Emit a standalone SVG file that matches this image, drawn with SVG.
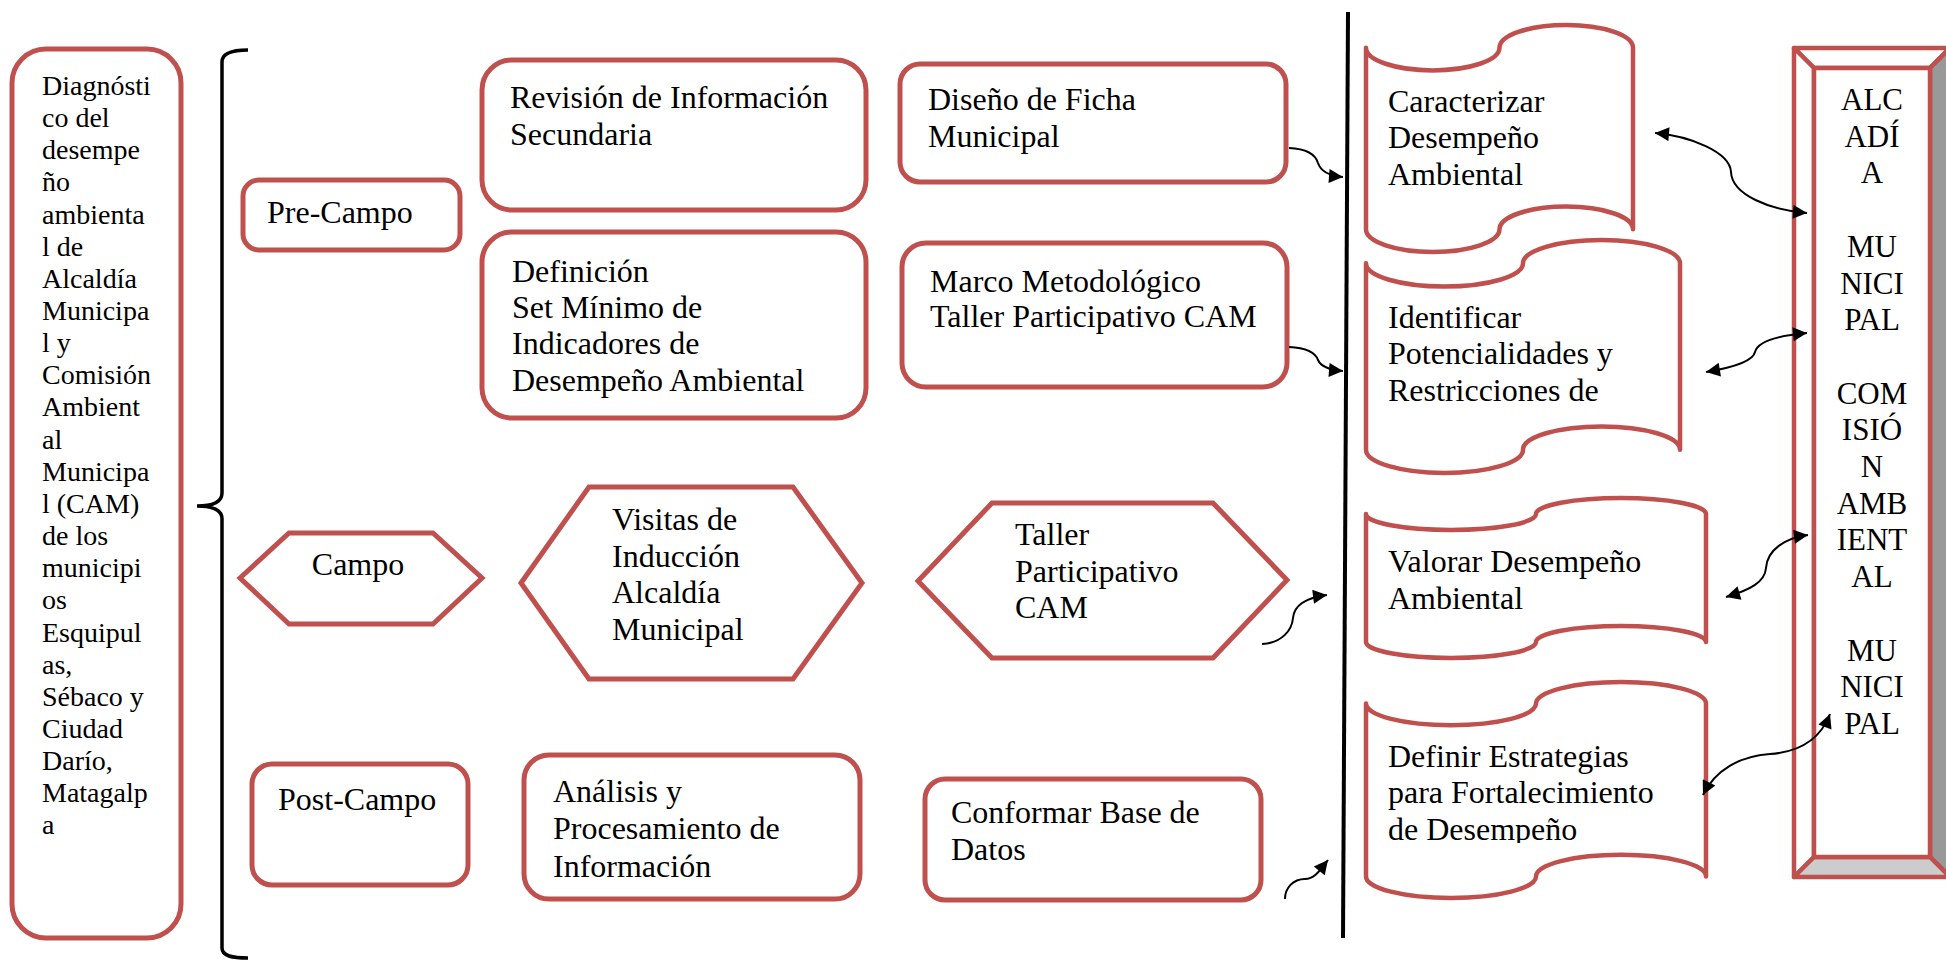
<svg xmlns="http://www.w3.org/2000/svg" width="1946" height="963" viewBox="0 0 1946 963">
<style>
.box{fill:#fff;stroke:#C0504D;stroke-width:5}
.tape{fill:#fff;stroke:#C0504D;stroke-width:4.5;stroke-linejoin:round}
.bev{stroke:#C0504D;stroke-width:4.5;stroke-linejoin:round}
.t{font-family:"Liberation Serif","Times New Roman",serif;font-size:32px;fill:#000}
.ts{font-family:"Liberation Serif","Times New Roman",serif;font-size:28px;fill:#000}
.tb{font-family:"Liberation Serif","Times New Roman",serif;font-size:31px;fill:#000;text-anchor:middle}
.c{fill:none;stroke:#000;stroke-width:2}
.brace{fill:none;stroke:#000;stroke-width:3.5}
</style>
<defs>
<marker id="ah" viewBox="0 0 10 10" refX="10" refY="5" markerWidth="16" markerHeight="14" markerUnits="userSpaceOnUse" orient="auto-start-reverse">
<path d="M0,0 L10,5 L0,10 z" fill="#000"/>
</marker>
<clipPath id="clipDef"><rect x="1366" y="680" width="345" height="163"/></clipPath>
</defs>

<g id="diagnostico">
<rect class="box" x="12" y="49" width="169" height="889" rx="34"/>
<text class="ts" x="42" y="95">
<tspan x="42" dy="0">Diagnósti</tspan><tspan x="42" dy="32.15">co del</tspan><tspan x="42" dy="32.15">desempe</tspan><tspan x="42" dy="32.15">ño</tspan><tspan x="42" dy="32.15">ambienta</tspan><tspan x="42" dy="32.15">l de</tspan><tspan x="42" dy="32.15">Alcaldía</tspan><tspan x="42" dy="32.15">Municipa</tspan><tspan x="42" dy="32.15">l y</tspan><tspan x="42" dy="32.15">Comisión</tspan><tspan x="42" dy="32.15">Ambient</tspan><tspan x="42" dy="32.15">al</tspan><tspan x="42" dy="32.15">Municipa</tspan><tspan x="42" dy="32.15">l (CAM)</tspan><tspan x="42" dy="32.15">de los</tspan><tspan x="42" dy="32.15">municipi</tspan><tspan x="42" dy="32.15">os</tspan><tspan x="42" dy="32.15">Esquipul</tspan><tspan x="42" dy="32.15">as,</tspan><tspan x="42" dy="32.15">Sébaco y</tspan><tspan x="42" dy="32.15">Ciudad</tspan><tspan x="42" dy="32.15">Darío,</tspan><tspan x="42" dy="32.15">Matagalp</tspan><tspan x="42" dy="32.15">a</tspan>
</text>
</g>

<g id="brace">
<path class="brace" d="M248,50 C232,50 222,53 222,62 L222,493 C222,502 212,506 197,506 C212,506 222,510 222,519 L222,948 C222,956 232,958 248,958"/>
</g>

<g id="precampo">
<rect class="box" x="243" y="180" width="217" height="70" rx="16"/>
<text class="t" x="267" y="223">Pre-Campo</text>
</g>

<g id="campo">
<polygon class="box" points="240,578 289,533 433,533 482,578 433,624 289,624"/>
<text class="t" x="358" y="575" text-anchor="middle">Campo</text>
</g>

<g id="postcampo">
<rect class="box" x="252" y="764" width="216" height="121" rx="20"/>
<text class="t" x="278" y="810">Post-Campo</text>
</g>

<g id="revision">
<rect class="box" x="482" y="60" width="384" height="150" rx="30"/>
<text class="t"><tspan x="510" y="108">Revisión de Información</tspan><tspan x="510" y="145">Secundaria</tspan></text>
</g>

<g id="definicion">
<rect class="box" x="482" y="232" width="384" height="186" rx="30"/>
<text class="t"><tspan x="512" y="282">Definición</tspan><tspan x="512" y="318">Set Mínimo de</tspan><tspan x="512" y="354">Indicadores de</tspan><tspan x="512" y="391">Desempeño Ambiental</tspan></text>
</g>

<g id="visitas">
<polygon class="box" points="521,583 589,487 793,487 862,583 793,679 589,679"/>
<text class="t"><tspan x="612" y="530">Visitas de</tspan><tspan x="612" y="567">Inducción</tspan><tspan x="612" y="603">Alcaldía</tspan><tspan x="612" y="640">Municipal</tspan></text>
</g>

<g id="analisis">
<rect class="box" x="524" y="755" width="336" height="144" rx="25"/>
<text class="t"><tspan x="553" y="802">Análisis y</tspan><tspan x="553" y="839">Procesamiento de</tspan><tspan x="553" y="877">Información</tspan></text>
</g>

<g id="ficha">
<rect class="box" x="900" y="64" width="386" height="118" rx="20"/>
<text class="t"><tspan x="928" y="110">Diseño de Ficha</tspan><tspan x="928" y="147">Municipal</tspan></text>
</g>

<g id="marco">
<rect class="box" x="902" y="243" width="385" height="144" rx="24"/>
<text class="t"><tspan x="930" y="292">Marco Metodológico</tspan><tspan x="930" y="327">Taller Participativo CAM</tspan></text>
</g>

<g id="taller">
<polygon class="box" points="918,581 992,503 1213,503 1287,580 1213,658 992,658"/>
<text class="t"><tspan x="1015" y="545">Taller</tspan><tspan x="1015" y="582">Participativo</tspan><tspan x="1015" y="618">CAM</tspan></text>
</g>

<g id="conformar">
<rect class="box" x="925" y="779" width="336" height="121" rx="20"/>
<text class="t"><tspan x="951" y="823">Conformar Base de</tspan><tspan x="951" y="860">Datos</tspan></text>
</g>

<g id="divider">
<line x1="1348" y1="12" x2="1343" y2="938" stroke="#000" stroke-width="4"/>
</g>

<g id="caracterizar">
<path class="tape" d="M1366,47.7 A66.75,22.7 0 0 0 1499.5,47.7 A66.75,22.7 0 0 1 1633,47.7 L1633,229.3 A66.75,22.7 0 0 0 1499.5,229.3 A66.75,22.7 0 0 1 1366,229.3 Z"/>
<text class="t"><tspan x="1388" y="112">Caracterizar</tspan><tspan x="1388" y="148">Desempeño</tspan><tspan x="1388" y="185">Ambiental</tspan></text>
</g>

<g id="identificar">
<path class="tape" d="M1366,263.3 A78.5,23.3 0 0 0 1523,263.3 A78.5,23.3 0 0 1 1680,263.3 L1680,449.7 A78.5,23.3 0 0 0 1523,449.7 A78.5,23.3 0 0 1 1366,449.7 Z"/>
<text class="t"><tspan x="1388" y="328">Identificar</tspan><tspan x="1388" y="364">Potencialidades y</tspan><tspan x="1388" y="401">Restricciones de</tspan></text>
</g>

<g id="valorar">
<path class="tape" d="M1366,514 A85,16 0 0 0 1536,514 A85,16 0 0 1 1706,514 L1706,642 A85,16 0 0 0 1536,642 A85,16 0 0 1 1366,642 Z"/>
<text class="t"><tspan x="1388" y="572">Valorar Desempeño</tspan><tspan x="1388" y="609">Ambiental</tspan></text>
</g>

<g id="definir">
<path class="tape" d="M1366,703.6 A85,21.6 0 0 0 1536,703.6 A85,21.6 0 0 1 1706,703.6 L1706,876.4 A85,21.6 0 0 0 1536,876.4 A85,21.6 0 0 1 1366,876.4 Z"/>
<text class="t" clip-path="url(#clipDef)"><tspan x="1388" y="767">Definir Estrategias</tspan><tspan x="1388" y="803">para Fortalecimiento</tspan><tspan x="1388" y="840">de Desempeño</tspan></text>
</g>

<g id="alcaldia">
<polygon class="bev" fill="#fff" points="1794,48 1950,48 1930,68 1814,68"/>
<polygon class="bev" fill="#fff" points="1794,48 1814,68 1814,857 1794,877"/>
<polygon class="bev" fill="#999" points="1950,48 1950,877 1930,857 1930,68"/>
<polygon class="bev" fill="#ccc" points="1814,857 1930,857 1950,877 1794,877"/>
<rect class="bev" fill="#fff" x="1814" y="68" width="116" height="789"/>
<text class="tb"><tspan x="1872" y="110">ALC</tspan><tspan x="1872" y="146.7">ADÍ</tspan><tspan x="1872" y="183.4">A</tspan><tspan x="1872" y="256.8">MU</tspan><tspan x="1872" y="293.5">NICI</tspan><tspan x="1872" y="330.2">PAL</tspan><tspan x="1872" y="403.6">COM</tspan><tspan x="1872" y="440.3">ISIÓ</tspan><tspan x="1872" y="477">N</tspan><tspan x="1872" y="513.7">AMB</tspan><tspan x="1872" y="550.4">IENT</tspan><tspan x="1872" y="587">AL</tspan><tspan x="1872" y="660.5">MU</tspan><tspan x="1872" y="697.2">NICI</tspan><tspan x="1872" y="734">PAL</tspan></text>
</g>

<g id="connectors">
<path class="c" marker-end="url(#ah)" d="M1289,148 C1308,149 1316,156 1318,163 C1321,172 1330,176 1343,177"/>
<path class="c" marker-end="url(#ah)" d="M1289,347 C1308,348 1316,354 1318,360 C1321,367 1330,370 1343,371"/>
<path class="c" marker-end="url(#ah)" d="M1262,644 C1282,643 1292,630 1293,618 C1294,606 1304,598 1327,595"/>
<path class="c" marker-end="url(#ah)" d="M1285,899 C1285,888 1293,879 1305,879 C1315,879 1320,870 1328,860"/>
<path class="c" marker-start="url(#ah)" marker-end="url(#ah)" d="M1655,133 C1690,136 1730,152 1731,172 C1732,195 1770,210 1807,213"/>
<path class="c" marker-start="url(#ah)" marker-end="url(#ah)" d="M1706,372 C1730,368 1753,362 1755,352 C1758,340 1785,335 1807,333"/>
<path class="c" marker-start="url(#ah)" marker-end="url(#ah)" d="M1726,597 C1750,590 1765,582 1766,568 C1767,550 1785,538 1808,535"/>
<path class="c" marker-start="url(#ah)" marker-end="url(#ah)" d="M1703,795 C1715,770 1740,756 1770,754 C1800,752 1820,740 1830,714"/>
</g>
</svg>
